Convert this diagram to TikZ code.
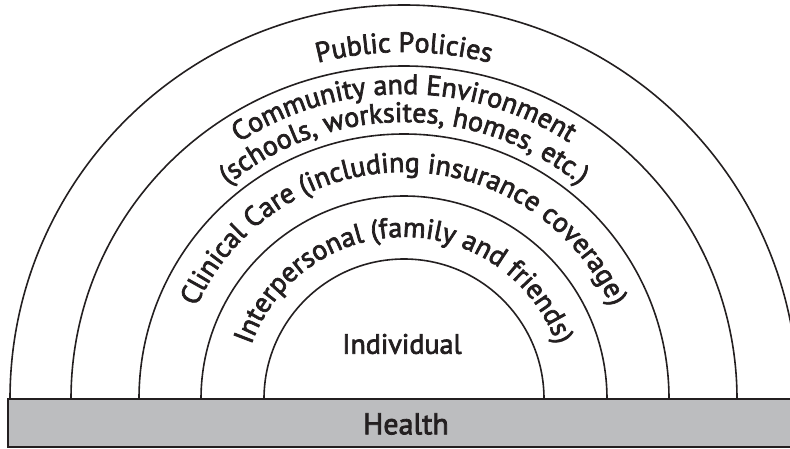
\documentclass[tikz,border=0pt]{standalone}
\usepackage{fontspec}
\setmainfont{PT Sans}[FakeBold=2.5]
\usetikzlibrary{calc,decorations.text}

\definecolor{ink}{RGB}{35,31,32}
\definecolor{barfill}{RGB}{188,189,191}
\newcommand\bandfont{\fontsize{28}{33}\selectfont}

\tikzset{
  ring/.style={draw=ink,line width=1.6pt},
  bandtext/.style={decorate,decoration={text along path,text align=center,
    text color=ink,text={|\bandfont|#1}}},
}

\begin{document}
\begin{tikzpicture}[x=1pt,y=1pt]
\useasboundingbox (0,0) rectangle (790,448);
\clip (0,0) rectangle (790,448);
\coordinate (c) at (404,49);

% the rings
\foreach \r in {140,203,265,333,394}
  \draw[ring] ($(c)+(-\r,0)$) arc[start angle=180,end angle=0,radius=\r];

% the bar
\draw[draw=ink,fill=barfill,line width=2pt](8,1) rectangle (800,49);
\node[text=ink,font=\fontsize{30}{36}\selectfont] (health) at (406,24) {Health};

% band texts
\path[bandtext=Public Policies] ($(c)+(-347,0)$) arc[start angle=180,end angle=0,radius=347];
\path[bandtext=Community and Environment] ($(c)+(-305,0)$) arc[start angle=180,end angle=0,radius=305];
\path[bandtext={(schools, worksites, homes, etc.)}] ($(c)+(-277,0)$) arc[start angle=180,end angle=0,radius=277];
\path[bandtext={Clinical Care (including insurance coverage)}] ($(c)+(-227,0)$) arc[start angle=180,end angle=0,radius=227];
\path[bandtext={Interpersonal (family and friends)}] ($(c)+(-162,0)$) arc[start angle=180,end angle=0,radius=162];
\node[text=ink,font=\bandfont] (indiv) at (402,104) {Individual};
\end{tikzpicture}
\end{document}
